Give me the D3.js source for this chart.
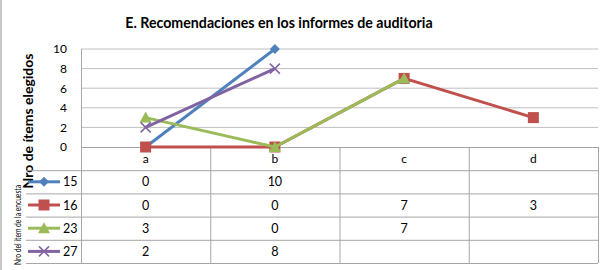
<!DOCTYPE html>
<html>
<head>
<meta charset="utf-8">
<script src="https://cdn.jsdelivr.net/npm/d3@7"></script>
<style>
  body { margin: 0; background: #fff; }
  text { font-family: Lato, "Open Sans", sans-serif; fill: #000; }
</style>
</head>
<body>
<div id="chart"></div>
<script>
// data
var categories = ["a", "b", "c", "d"];
var seriesNames = ["15", "16", "23", "27"];
var s15 = [0, 10, null, null];
var s16 = [0, 0, 7, 3];
var s23 = [3, 0, 7, null];
var s27 = [2, 8, null, null];
var yTicks = [0, 2, 4, 6, 8, 10];

var series = [
  {name: seriesNames[0], values: s15, color: "#4F81BD", marker: "diamond"},
  {name: seriesNames[1], values: s16, color: "#C0504D", marker: "square"},
  {name: seriesNames[2], values: s23, color: "#9BBB59", marker: "triangle"},
  {name: seriesNames[3], values: s27, color: "#8064A2", marker: "x"}
];

var W = 614, H = 270;
var plot = {left: 81, right: 598, top: 49, bottom: 147};
var tableBottom = 263;

var svg = d3.select("#chart").append("svg")
  .attr("width", W).attr("height", H);

// chart frame (only left edge shows in the crop)
svg.append("line")
  .attr("x1", 1).attr("x2", 1).attr("y1", 0).attr("y2", H)
  .attr("stroke", "#c8c8c8").attr("stroke-width", 2);

var x = d3.scaleBand().domain(categories).range([plot.left, plot.right]);
var y = d3.scaleLinear().domain([0, 10]).range([plot.bottom, plot.top]);
var rows = d3.scaleBand().domain(["header"].concat(seriesNames)).range([plot.bottom, tableBottom]);

// title
svg.append("text")
  .attr("x", 279).attr("y", 28)
  .attr("text-anchor", "middle")
  .style("font-size", "14.2px").style("font-weight", "bold")
  .text("E. Recomendaciones en los informes de auditoria");

// gridlines
svg.append("g").selectAll("line")
  .data(yTicks.filter(function(d) { return d > 0; }))
  .enter().append("line")
    .attr("x1", plot.left).attr("x2", plot.right)
    .attr("y1", function(d) { return y(d); })
    .attr("y2", function(d) { return y(d); })
    .attr("stroke", "#bfbfbf").attr("stroke-width", 1);

// y axis
var yAxis = svg.append("g")
  .attr("transform", "translate(" + plot.left + ",0)")
  .call(d3.axisLeft(y).tickValues(yTicks).tickSize(0).tickPadding(14));
yAxis.select(".domain").remove();
yAxis.selectAll("text")
  .style("font-size", "12px").style("font-family", "Lato, sans-serif").attr("fill", "#000");

// y axis title
svg.append("text")
  .attr("transform", "translate(33,121) rotate(-90)")
  .attr("text-anchor", "middle")
  .style("font-size", "14px").style("font-weight", "bold")
  .text("Nro de ítems elegidos");

// legend title (squeezed)
svg.append("text")
  .attr("transform", "translate(21,225) rotate(-90)")
  .attr("text-anchor", "middle")
  .attr("textLength", 80).attr("lengthAdjust", "spacingAndGlyphs")
  .style("font-size", "10px")
  .text("Nro del ítem de la encuesta");

// data table lines
var tbl = svg.append("g").attr("stroke", "#a6a6a6").attr("stroke-width", 1);
seriesNames.forEach(function(n) {
  tbl.append("line")
    .attr("x1", 26).attr("x2", plot.right)
    .attr("y1", rows(n) + 0.5).attr("y2", rows(n) + 0.5);
});
tbl.append("line")
  .attr("x1", 26).attr("x2", plot.right)
  .attr("y1", tableBottom + 0.5).attr("y2", tableBottom + 0.5);
categories.forEach(function(c) {
  tbl.append("line")
    .attr("x1", x(c) + 0.5).attr("x2", x(c) + 0.5)
    .attr("y1", c === "a" ? plot.top : plot.bottom).attr("y2", tableBottom);
});
tbl.append("line")
  .attr("x1", plot.right + 0.5).attr("x2", plot.right + 0.5)
  .attr("y1", plot.bottom).attr("y2", tableBottom);
// category axis line
tbl.append("line")
  .attr("x1", plot.left).attr("x2", plot.right)
  .attr("y1", plot.bottom + 0.5).attr("y2", plot.bottom + 0.5);

// header labels
svg.append("g").selectAll("text")
  .data(categories).enter().append("text")
    .attr("x", function(d) { return x(d) + x.bandwidth() / 2; })
    .attr("y", rows("header") + rows.bandwidth() / 2 + 4)
    .attr("text-anchor", "middle")
    .style("font-size", "12px")
    .text(function(d) { return d; });

// table values
series.forEach(function(s) {
  svg.append("g").selectAll("text")
    .data(s.values).enter().append("text")
      .attr("x", function(d, i) { return x(categories[i]) + x.bandwidth() / 2; })
      .attr("y", rows(s.name) + rows.bandwidth() / 2 + 4.5)
      .attr("text-anchor", "middle")
      .style("font-size", "12.5px")
      .text(function(d) { return d === null ? "" : d; });
});

function drawMarker(g, type, cx, cy, color) {
  if (type === "diamond") {
    g.append("path")
      .attr("d", "M" + cx + "," + (cy - 5) + "L" + (cx + 5) + "," + cy + "L" + cx + "," + (cy + 5) + "L" + (cx - 5) + "," + cy + "Z")
      .attr("fill", color);
  } else if (type === "square") {
    g.append("rect")
      .attr("x", cx - 5.5).attr("y", cy - 5.5).attr("width", 11).attr("height", 11)
      .attr("fill", color);
  } else if (type === "triangle") {
    g.append("path")
      .attr("d", "M" + cx + "," + (cy - 6) + "L" + (cx + 6) + "," + (cy + 5) + "L" + (cx - 6) + "," + (cy + 5) + "Z")
      .attr("fill", color);
  } else {
    g.append("path")
      .attr("d", "M" + (cx - 5) + "," + (cy - 5) + "L" + (cx + 5) + "," + (cy + 5) + "M" + (cx + 5) + "," + (cy - 5) + "L" + (cx - 5) + "," + (cy + 5))
      .attr("stroke", color).attr("stroke-width", 1.5).attr("fill", "none");
  }
}

// lines and markers
var line = d3.line()
  .defined(function(d) { return d !== null; })
  .x(function(d, i) { return x(categories[i]) + x.bandwidth() / 2; })
  .y(function(d) { return y(d); });

series.forEach(function(s) {
  var g = svg.append("g");
  g.append("path")
    .datum(s.values)
    .attr("d", line)
    .attr("fill", "none")
    .attr("stroke", s.color)
    .attr("stroke-width", 3);
  s.values.forEach(function(v, i) {
    if (v === null) return;
    drawMarker(g, s.marker, x(categories[i]) + x.bandwidth() / 2, y(v), s.color);
  });
});

// legend keys in the table
series.forEach(function(s) {
  var cy = rows(s.name) + rows.bandwidth() / 2;
  var g = svg.append("g");
  g.append("line")
    .attr("x1", 28).attr("x2", 60).attr("y1", cy).attr("y2", cy)
    .attr("stroke", s.color).attr("stroke-width", 3);
  drawMarker(g, s.marker, 44, cy, s.color);
  svg.append("text")
    .attr("x", 63).attr("y", cy + 4.5)
    .style("font-size", "12.5px")
    .text(s.name);
});
</script>
</body>
</html>
